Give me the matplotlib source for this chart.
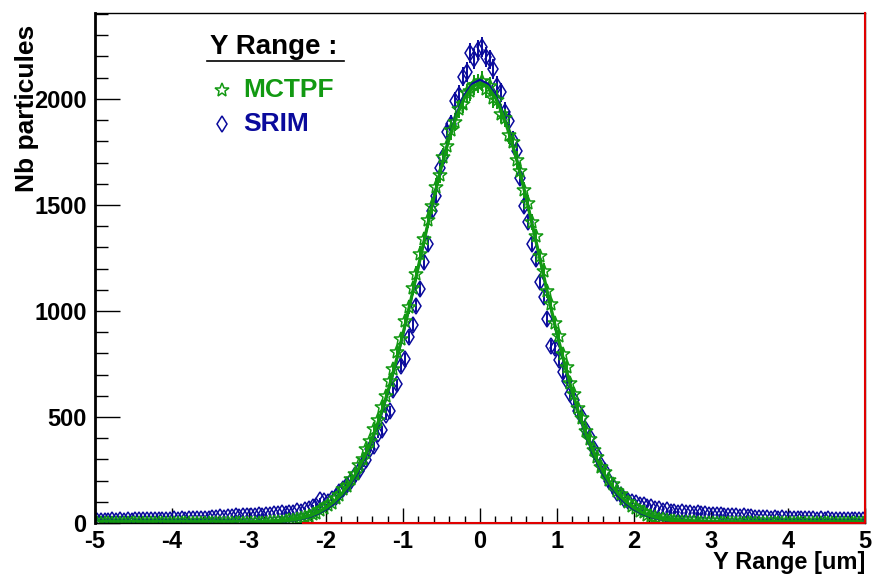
import numpy as np
import matplotlib
matplotlib.use("Agg")
import matplotlib.pyplot as plt
from matplotlib.ticker import MultipleLocator

# bin centres of the two histograms (0.05 um bins from -5 to 5)
bin_centers = np.round(np.arange(-4.975, 5.0, 0.05), 3)

# MCTPF counts, left to right
mctpf_counts = [
    0, 0, 0, 0, 1, 0, 0, 0, 0, 0,
    0, 0, 0, 0, 0, 0, 0, 0, 0, 1,
    0, 0, 0, 0, 0, 0, 0, 1, 0, 0,
    1, 0, 0, 0, 0, 1, 0, 0, 1, 0,
    1, 2, 1, 2, 2, 4, 4, 5, 7, 9,
    12, 15, 19, 23, 30, 33, 43, 49, 62, 69,
    86, 96, 118, 131, 158, 176, 209, 233, 273, 302,
    350, 386, 442, 485, 549, 598, 670, 727, 806, 867,
    953, 1019, 1109, 1176, 1270, 1337, 1431, 1496, 1585, 1642,
    1727, 1778, 1851, 1890, 1952, 1978, 2026, 2035, 2066, 2072,
    2085, 2048, 2060, 2002, 1995, 1930, 1910, 1832, 1796, 1712,
    1661, 1570, 1510, 1418, 1352, 1258, 1190, 1096, 1031, 942,
    880, 795, 738, 661, 608, 540, 494, 433, 394, 342,
    309, 266, 240, 203, 182, 152, 137, 112, 101, 81,
    73, 58, 52, 40, 34, 27, 21, 17, 13, 10,
    8, 6, 5, 4, 3, 3, 2, 2, 1, 1,
    1, 0, 1, 0, 0, 1, 0, 0, 0, 1,
    0, 0, 0, 0, 1, 0, 0, 0, 0, 0,
    0, 0, 0, 0, 0, 0, 1, 0, 0, 0,
    0, 0, 0, 0, 0, 0, 0, 0, 0, 0,
]

# SRIM counts, left to right
srim_counts = [
    11, 9, 11, 10, 12, 10, 12, 11, 13, 11,
    13, 12, 14, 12, 15, 13, 15, 14, 16, 14,
    17, 15, 18, 16, 19, 17, 20, 18, 21, 19,
    25, 23, 27, 25, 29, 27, 31, 29, 33, 31,
    35, 33, 37, 35, 40, 38, 43, 41, 46, 44,
    49, 47, 56, 54, 63, 64, 76, 80, 108, 103,
    97, 114, 122, 145, 158, 181, 198, 227, 247, 279,
    296, 350, 362, 420, 437, 508, 527, 625, 655, 740,
    772, 878, 936, 1025, 1105, 1232, 1318, 1470, 1541, 1672,
    1728, 1845, 1880, 1990, 2020, 2105, 2128, 2215, 2190, 2232,
    2245, 2198, 2186, 2140, 2062, 2031, 1940, 1897, 1806, 1752,
    1628, 1497, 1420, 1315, 1244, 1136, 1066, 962, 835, 826,
    770, 712, 670, 607, 580, 526, 500, 440, 406, 350,
    322, 272, 247, 200, 173, 141, 133, 112, 106, 98,
    96, 86, 84, 75, 74, 66, 65, 58, 59, 52,
    50, 48, 50, 45, 47, 44, 46, 41, 43, 39,
    40, 36, 38, 33, 35, 31, 33, 29, 31, 28,
    27, 24, 25, 22, 24, 21, 23, 20, 22, 19,
    21, 18, 20, 17, 19, 17, 18, 16, 18, 15,
    17, 15, 16, 14, 16, 14, 15, 13, 15, 13,
]

# gaussian fit curves
fit_x = np.round(np.arange(-3.0, 3.05, 0.1), 2)
mctpf_fit = [1, 2, 3, 4, 7, 11, 16, 24, 35, 50, 71, 99, 135, 181, 240, 311, 397, 499, 616, 748,
             893, 1048, 1210, 1373, 1532, 1681, 1813, 1923, 2006, 2058, 2075,
             2058, 2006, 1923, 1813, 1681, 1532, 1373, 1210, 1048, 893,
             748, 616, 499, 397, 311, 240, 181, 135, 99, 71, 50, 35, 24, 16, 11, 7, 4, 3, 2, 1]
srim_fit = [1, 1, 2, 3, 5, 8, 13, 20, 30, 44, 64, 90, 125, 171, 229, 300, 387, 490, 607, 740,
            886, 1043, 1207, 1373, 1535, 1687, 1822, 1935, 2020, 2072, 2090,
            2072, 2020, 1935, 1822, 1687, 1535, 1373, 1207, 1043, 886,
            740, 607, 490, 387, 300, 229, 171, 125, 90, 64, 44, 30, 20, 13, 8, 5, 3, 2, 1, 1]

# empty red histogram frame
red_x = [-2.3, 5.0, 5.0]
red_y = [0, 0, 2405]

green = '#129912'
blue = '#0a0a9c'

plt.rcParams['font.family'] = ['Liberation Sans', 'DejaVu Sans']
plt.rcParams['font.weight'] = 'bold'
plt.rcParams['axes.unicode_minus'] = False

fig = plt.figure(figsize=(8.73, 5.78), dpi=100)
ax = fig.add_axes([95 / 873, 1 - 523 / 578, 770 / 873, 510 / 578])

srim = np.array(srim_counts, dtype=float)
mctpf = np.array(mctpf_counts, dtype=float)

ax.errorbar(bin_centers, srim, yerr=np.sqrt(srim), fmt='none', ecolor=blue, elinewidth=1.4)
ax.plot(bin_centers, srim, linestyle='none', marker='d', ms=8, mfc='none', mec=blue, mew=1.1)
ax.errorbar(bin_centers, mctpf, yerr=np.sqrt(mctpf), fmt='none', ecolor=green, elinewidth=1.4)
ax.plot(bin_centers, mctpf, linestyle='none', marker='*', ms=10, mfc='none', mec=green, mew=1.1)

ax.plot(fit_x, srim_fit, color=blue, lw=1.6)
ax.plot(fit_x, mctpf_fit, color=green, lw=2.3)
ax.plot(red_x, red_y, color='#e00000', lw=1.5, clip_on=False, zorder=5)

ax.set_xlim(-5, 5)
ax.set_ylim(0, 2405)
ax.set_xticks(range(-5, 6))
ax.set_yticks([0, 500, 1000, 1500, 2000])
ax.xaxis.set_minor_locator(MultipleLocator(0.2))
ax.yaxis.set_minor_locator(MultipleLocator(100))
ax.tick_params(axis='both', which='both', direction='in', top=False, right=False,
               labelsize=17, width=1.0)
ax.tick_params(axis='x', which='major', length=11, pad=5)
ax.tick_params(axis='x', which='minor', length=5)
ax.tick_params(axis='y', which='major', length=18, pad=6)
ax.tick_params(axis='y', which='minor', length=9)
for s in ax.spines.values():
    s.set_linewidth(1.0)
ax.spines['left'].set_linewidth(2.0)

fig.text(27 / 873, 1 - 25 / 578, 'Nb particules', rotation=90, ha='center', va='top',
         fontsize=19, fontweight='bold')
fig.text(865 / 873, 1 - 563 / 578, 'Y Range [um]', ha='right', va='center',
         fontsize=17, fontweight='bold')

# legend box
ax.text(0.149, 0.933, 'Y Range :', transform=ax.transAxes, ha='left', va='center',
        fontsize=20, fontweight='bold', color='black')
ax.plot([0.145, 0.324], [0.905, 0.905], transform=ax.transAxes, color='black', lw=1.2)
ax.plot([0.165], [0.849], transform=ax.transAxes, linestyle='none', marker='*', ms=10,
        mfc='none', mec=green, mew=1.1, clip_on=False)
ax.text(0.192, 0.849, 'MCTPF', transform=ax.transAxes, ha='left', va='center',
        fontsize=19, fontweight='bold', color=green)
ax.plot([0.165], [0.782], transform=ax.transAxes, linestyle='none', marker='d', ms=8.5,
        mfc='none', mec=blue, mew=1.1, clip_on=False)
ax.text(0.192, 0.782, 'SRIM', transform=ax.transAxes, ha='left', va='center',
        fontsize=19, fontweight='bold', color=blue)

fig.savefig('out.png', dpi=100)
